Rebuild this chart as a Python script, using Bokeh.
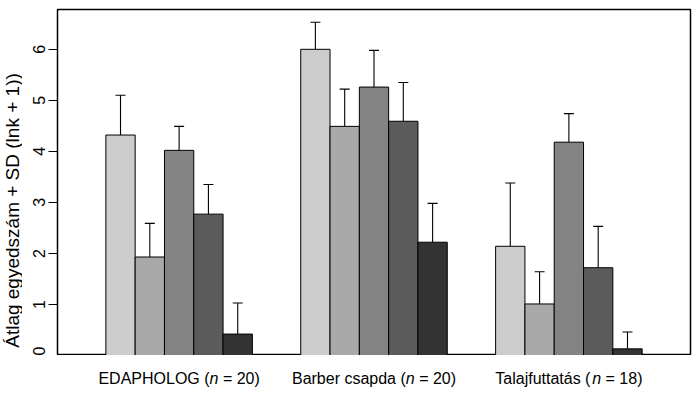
import math
from bokeh.plotting import figure
from bokeh.models import Range1d, ColumnDataSource, Whisker, TeeHead, FixedTicker
from bokeh.layouts import row, column
from bokeh.embed import file_html
from bokeh.resources import INLINE

# ---- data ----
groups = ["EDAPHOLOG", "Barber csapda", "Talajfuttatás"]
group_n = [20, 20, 18]
edapholog_mean = [4.32, 1.93, 4.02, 2.77, 0.42]
edapholog_upper = [5.10, 2.59, 4.49, 3.35, 1.03]
barber_mean = [6.00, 4.49, 5.26, 4.59, 2.22]
barber_upper = [6.53, 5.22, 5.98, 5.35, 2.98]
talaj_mean = [2.14, 1.01, 4.18, 1.72, 0.13]
talaj_upper = [3.38, 1.64, 4.74, 2.53, 0.46]
bar_colors = ["#CDCDCD", "#A9A9A9", "#838383", "#5B5B5B", "#333333"]
y_ticks = [0, 1, 2, 3, 4, 5, 6]
y_label = "Átlag egyedszám + SD (lnk + 1))"

means = [edapholog_mean, barber_mean, talaj_mean]
uppers = [edapholog_upper, barber_upper, talaj_upper]

# ---- layout constants ----
GAP = 1.65
BAR_W = 1.0
X_END = 21.6
Y_END = 6.78
LEFT_W = 22
FRAME_W, FRAME_H = 633, 346
TOP_B, LEFT_B, RIGHT_B = 9, 35, 10
BOTTOM_H = 40
FONT = "Liberation Sans"
FS = 16
YLAB_FS = 19
NBSP = "\u00a0"

xs, tops, ups, cols = [], [], [], []
centers = []
for g in range(len(groups)):
    start = GAP + g * (5 * BAR_W + GAP)
    centers.append(start + 2.5 * BAR_W)
    for i in range(5):
        xs.append(start + (i + 0.5) * BAR_W)
        tops.append(means[g][i])
        ups.append(uppers[g][i])
        cols.append(bar_colors[i])

src = ColumnDataSource(dict(x=xs, top=tops, upper=ups, color=cols))

# ---- main chart ----
p = figure(output_backend="svg", toolbar_location=None,
           x_range=Range1d(0, X_END), y_range=Range1d(0, Y_END),
           frame_width=FRAME_W, frame_height=FRAME_H,
           min_border_left=LEFT_B, min_border_right=RIGHT_B,
           min_border_top=TOP_B, min_border_bottom=0)

p.vbar(x="x", top="top", bottom=0, width=BAR_W, fill_color="color",
       line_color="black", line_width=1, source=src)

wh = Whisker(source=src, base="x", lower="top", upper="upper", dimension="height",
             line_color="black", line_width=1.1, lower_head=None,
             upper_head=TeeHead(size=10, line_color="black", line_width=1.1))
p.add_layout(wh)

p.xaxis.visible = False
p.xgrid.visible = False
p.ygrid.visible = False
p.outline_line_color = "black"
p.outline_line_width = 1.5
p.outline_line_alpha = 1.0

ya = p.yaxis[0]
ya.ticker = FixedTicker(ticks=y_ticks)
ya.minor_tick_line_color = None
ya.major_tick_in = 0
ya.major_tick_out = 9
ya.major_tick_line_color = "black"
ya.axis_line_color = None
ya.major_label_orientation = "vertical"
ya.major_label_standoff = 3
ya.major_label_text_font = FONT
ya.major_label_text_font_size = f"{FS}px"
ya.major_label_text_color = "black"

# ---- y label panel ----
yl = figure(output_backend="svg", toolbar_location=None,
            x_range=Range1d(0, LEFT_W), y_range=Range1d(0, TOP_B + FRAME_H + BOTTOM_H),
            frame_width=LEFT_W, frame_height=TOP_B + FRAME_H + BOTTOM_H,
            min_border=0)
yl.axis.visible = False
yl.grid.visible = False
yl.outline_line_color = None
yl.text(x=[12], y=[185], text=[y_label], angle=math.pi / 2,
        text_align="center", text_baseline="middle",
        text_font={"value": FONT}, text_font_size=f"{YLAB_FS}px", text_color="black")

# ---- x label panel ----
xl = figure(output_backend="svg", toolbar_location=None,
            x_range=p.x_range, y_range=Range1d(0, BOTTOM_H),
            frame_width=FRAME_W, frame_height=BOTTOM_H,
            min_border_left=LEFT_B, min_border_right=RIGHT_B,
            min_border_top=0, min_border_bottom=0)
xl.axis.visible = False
xl.grid.visible = False
xl.outline_line_color = None

ARIAL = {"E": 667, "D": 722, "A": 667, "P": 667, "H": 722, "O": 778, "L": 556, "G": 778,
         " ": 278, NBSP: 278, "(": 333, ")": 333, "n": 556, "=": 584, "0": 556, "1": 556,
         "2": 556, "8": 556, "B": 667, "a": 556, "r": 333, "b": 556, "e": 556, "c": 500,
         "s": 500, "p": 556, "d": 556, "T": 611, "l": 222, "j": 222, "f": 278, "u": 556,
         "t": 278, "á": 556}

def tw(s):
    return sum(ARIAL.get(ch, 556) for ch in s) * FS / 1000.0

BASELINE = 17
norm_x, norm_t, norm_o = [], [], []
ital_x, ital_t, ital_o = [], [], []
for g, name in enumerate(groups):
    parts = [(f"{name} (", False), ("n", True), (f"{NBSP}={NBSP}{group_n[g]})", False)]
    total = sum(tw(t) for t, _ in parts)
    off = -total / 2
    for t, it in parts:
        if it:
            ital_x.append(centers[g]); ital_t.append(t); ital_o.append(off)
        else:
            norm_x.append(centers[g]); norm_t.append(t); norm_o.append(off)
        off += tw(t)

xl.text(x=norm_x, y=[BASELINE] * len(norm_x), text=norm_t, x_offset=norm_o,
        text_align="left", text_baseline="alphabetic",
        text_font={"value": FONT}, text_font_size=f"{FS}px", text_color="black")
xl.text(x=ital_x, y=[BASELINE] * len(ital_x), text=ital_t, x_offset=ital_o,
        text_align="left", text_baseline="alphabetic", text_font_style="italic",
        text_font={"value": FONT}, text_font_size=f"{FS}px", text_color="black")

layout = row(yl, column(p, xl))
open("out.html", "w").write(file_html(layout, INLINE))
